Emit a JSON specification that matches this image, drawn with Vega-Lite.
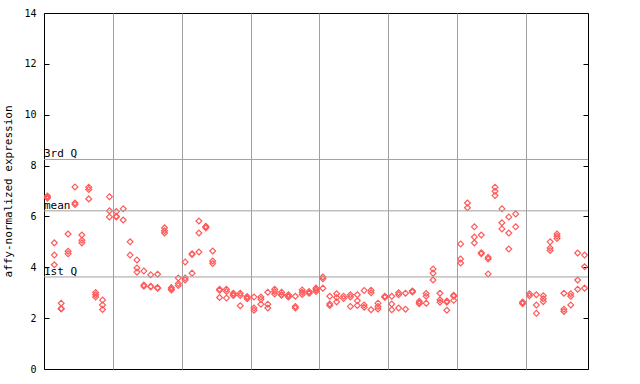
{
  "$schema": "https://vega.github.io/schema/vega-lite/v6.json",
  "width": 544,
  "height": 356,
  "autosize": "none",
  "padding": {"left": 44, "top": 13, "right": 52, "bottom": 15},
  "background": "white",
  "config": {
    "view": {"stroke": "black", "strokeWidth": 1},
    "font": "DejaVu Sans Mono",
    "axis": {"labelFont": "DejaVu Sans Mono", "titleFont": "DejaVu Sans Mono", "labelColor": "black", "titleColor": "black", "tickColor": "black"}
  },
  "datasets": {
    "stats": [
      {"stat": "3rd Q", "v": 8.24},
      {"stat": "mean", "v": 6.22},
      {"stat": "1st Q", "v": 3.62}
    ],
    "pts": [
      {"s":0,"v":6.8},{"s":0,"v":6.76},{"s":0,"v":6.72},
      {"s":1,"v":4.96},{"s":1,"v":4.48},{"s":1,"v":4.1},
      {"s":2,"v":2.59},{"s":2,"v":2.38},{"s":2,"v":2.36},
      {"s":3,"v":5.31},{"s":3,"v":4.63},{"s":3,"v":4.53},
      {"s":4,"v":7.16},{"s":4,"v":6.53},{"s":4,"v":6.47},
      {"s":5,"v":5.27},{"s":5,"v":5.06},{"s":5,"v":4.96},
      {"s":6,"v":7.15},{"s":6,"v":7.06},{"s":6,"v":6.69},
      {"s":7,"v":3.01},{"s":7,"v":2.92},{"s":7,"v":2.83},
      {"s":8,"v":2.71},{"s":8,"v":2.52},{"s":8,"v":2.34},
      {"s":9,"v":6.77},{"s":9,"v":6.22},{"s":9,"v":5.98},
      {"s":10,"v":6.19},{"s":10,"v":6.01},{"s":10,"v":5.98},
      {"s":11,"v":6.3},{"s":11,"v":5.86},
      {"s":12,"v":5.0},{"s":12,"v":4.48},
      {"s":13,"v":4.29},{"s":13,"v":3.97},{"s":13,"v":3.81},
      {"s":14,"v":3.85},{"s":14,"v":3.3},{"s":14,"v":3.25},
      {"s":15,"v":3.71},{"s":15,"v":3.25},{"s":15,"v":3.23},
      {"s":16,"v":3.73},{"s":16,"v":3.2},{"s":16,"v":3.18},
      {"s":17,"v":5.55},{"s":17,"v":5.44},{"s":17,"v":5.35},
      {"s":18,"v":3.2},{"s":18,"v":3.15},{"s":18,"v":3.11},
      {"s":19,"v":3.58},{"s":19,"v":3.36},{"s":19,"v":3.28},
      {"s":20,"v":4.21},{"s":20,"v":3.58},{"s":20,"v":3.5},
      {"s":21,"v":4.53},{"s":21,"v":4.5},{"s":21,"v":3.77},
      {"s":22,"v":5.82},{"s":22,"v":5.35},{"s":22,"v":4.6},
      {"s":23,"v":5.61},{"s":23,"v":5.58},{"s":23,"v":5.55},
      {"s":24,"v":4.64},{"s":24,"v":4.25},{"s":24,"v":4.15},
      {"s":25,"v":3.14},{"s":25,"v":3.1},{"s":25,"v":2.81},
      {"s":26,"v":3.14},{"s":26,"v":3.05},{"s":26,"v":2.79},
      {"s":27,"v":2.98},{"s":27,"v":2.91},{"s":27,"v":2.89},
      {"s":28,"v":2.98},{"s":28,"v":2.89},{"s":28,"v":2.49},
      {"s":29,"v":2.85},{"s":29,"v":2.8},{"s":29,"v":2.76},
      {"s":30,"v":2.83},{"s":30,"v":2.4},{"s":30,"v":2.31},
      {"s":31,"v":2.83},{"s":31,"v":2.74},{"s":31,"v":2.55},
      {"s":32,"v":3.02},{"s":32,"v":2.55},{"s":32,"v":2.4},
      {"s":33,"v":3.14},{"s":33,"v":3.05},{"s":33,"v":2.95},
      {"s":34,"v":3.02},{"s":34,"v":2.92},{"s":34,"v":2.9},
      {"s":35,"v":2.92},{"s":35,"v":2.86},{"s":35,"v":2.83},
      {"s":36,"v":2.86},{"s":36,"v":2.46},{"s":36,"v":2.4},
      {"s":37,"v":3.11},{"s":37,"v":3.02},{"s":37,"v":2.93},
      {"s":38,"v":3.05},{"s":38,"v":3.0},{"s":38,"v":2.98},
      {"s":39,"v":3.18},{"s":39,"v":3.12},{"s":39,"v":3.05},
      {"s":40,"v":3.62},{"s":40,"v":3.55},{"s":40,"v":3.18},
      {"s":41,"v":2.86},{"s":41,"v":2.56},{"s":41,"v":2.5},
      {"s":42,"v":2.96},{"s":42,"v":2.81},{"s":42,"v":2.64},
      {"s":43,"v":2.86},{"s":43,"v":2.77},
      {"s":44,"v":2.92},{"s":44,"v":2.83},{"s":44,"v":2.46},
      {"s":45,"v":2.92},{"s":45,"v":2.68},{"s":45,"v":2.5},
      {"s":46,"v":3.09},{"s":46,"v":2.52},{"s":46,"v":2.43},
      {"s":47,"v":3.1},{"s":47,"v":3.0},{"s":47,"v":2.33},
      {"s":48,"v":2.59},{"s":48,"v":2.46},{"s":48,"v":2.36},
      {"s":49,"v":2.86},{"s":49,"v":2.83},{"s":49,"v":2.82},
      {"s":50,"v":2.86},{"s":50,"v":2.56},{"s":50,"v":2.33},
      {"s":51,"v":3.0},{"s":51,"v":2.92},{"s":51,"v":2.4},
      {"s":52,"v":2.98},{"s":52,"v":2.35},
      {"s":53,"v":3.07},{"s":53,"v":3.05},{"s":53,"v":3.03},
      {"s":54,"v":2.66},{"s":54,"v":2.6},{"s":54,"v":2.57},
      {"s":55,"v":2.97},{"s":55,"v":2.86},{"s":55,"v":2.59},
      {"s":56,"v":3.93},{"s":56,"v":3.77},{"s":56,"v":3.5},
      {"s":57,"v":2.98},{"s":57,"v":2.72},{"s":57,"v":2.63},
      {"s":58,"v":2.67},{"s":58,"v":2.63},{"s":58,"v":2.31},
      {"s":59,"v":2.9},{"s":59,"v":2.86},{"s":59,"v":2.7},
      {"s":60,"v":4.92},{"s":60,"v":4.33},{"s":60,"v":4.17},
      {"s":61,"v":6.53},{"s":61,"v":6.34},
      {"s":62,"v":5.59},{"s":62,"v":5.19},{"s":62,"v":4.96},
      {"s":63,"v":5.27},{"s":63,"v":4.57},{"s":63,"v":4.53},
      {"s":64,"v":4.39},{"s":64,"v":4.33},{"s":64,"v":3.74},
      {"s":65,"v":7.15},{"s":65,"v":6.99},{"s":65,"v":6.82},
      {"s":66,"v":6.3},{"s":66,"v":5.75},{"s":66,"v":5.51},
      {"s":67,"v":5.98},{"s":67,"v":5.35},{"s":67,"v":4.72},
      {"s":68,"v":6.1},{"s":68,"v":5.59},
      {"s":69,"v":2.63},{"s":69,"v":2.6},{"s":69,"v":2.57},
      {"s":70,"v":2.96},{"s":70,"v":2.88},
      {"s":71,"v":2.92},{"s":71,"v":2.52},{"s":71,"v":2.19},
      {"s":72,"v":2.88},{"s":72,"v":2.76},{"s":72,"v":2.65},
      {"s":73,"v":5.0},{"s":73,"v":4.76},{"s":73,"v":4.66},
      {"s":74,"v":5.31},{"s":74,"v":5.22},{"s":74,"v":5.13},
      {"s":75,"v":2.98},{"s":75,"v":2.35},{"s":75,"v":2.26},
      {"s":76,"v":2.96},{"s":76,"v":2.86},{"s":76,"v":2.52},
      {"s":77,"v":4.56},{"s":77,"v":3.5},{"s":77,"v":3.14},
      {"s":78,"v":4.48},{"s":78,"v":4.02},{"s":78,"v":3.18}
    ]
  },
  "resolve": {"axis": {"y": "independent"}},
  "layer": [
    {
      "data": {"name": "pts"},
      "mark": {"type": "point", "shape": "diamond", "filled": false, "color": "#ff5a5a", "size": 34, "strokeWidth": 1.2, "opacity": 1},
      "encoding": {
        "x": {"field": "s", "type": "quantitative", "scale": {"domain": [-0.5, 78.5], "nice": false, "zero": false},
              "axis": {"values": [9.5, 19.5, 29.5, 39.5, 49.5, 59.5, 69.5], "grid": true, "gridColor": "#a0a0a0", "gridOpacity": 1, "labels": false, "ticks": false, "domain": false, "title": null}},
        "y": {"field": "v", "type": "quantitative", "scale": {"domain": [0, 14], "nice": false, "zero": true},
              "axis": {"orient": "left", "values": [0,2,4,6,8,10,12,14], "grid": false, "domain": false, "ticks": true, "tickSize": -5, "labelPadding": 13, "labelFontSize": 10, "title": "affy-normalized expression", "titleFontSize": 11, "titleFontWeight": "normal", "titlePadding": 10}}
      }
    },
    {
      "data": {"name": "stats"},
      "mark": {"type": "rule", "color": "#a0a0a0", "strokeWidth": 1},
      "encoding": {
        "y": {"field": "v", "type": "quantitative",
              "axis": {"orient": "right", "values": [0,2,4,6,8,10,12,14], "labels": false, "domain": false, "grid": false, "ticks": true, "tickSize": -5, "title": null}}
      }
    },
    {
      "data": {"name": "stats"},
      "mark": {"type": "text", "align": "left", "baseline": "alphabetic", "dy": -2, "fontSize": 11, "font": "DejaVu Sans Mono", "color": "black"},
      "encoding": {
        "x": {"datum": -0.5, "type": "quantitative"},
        "y": {"field": "v", "type": "quantitative", "axis": null},
        "text": {"field": "stat"}
      }
    }
  ]
}
